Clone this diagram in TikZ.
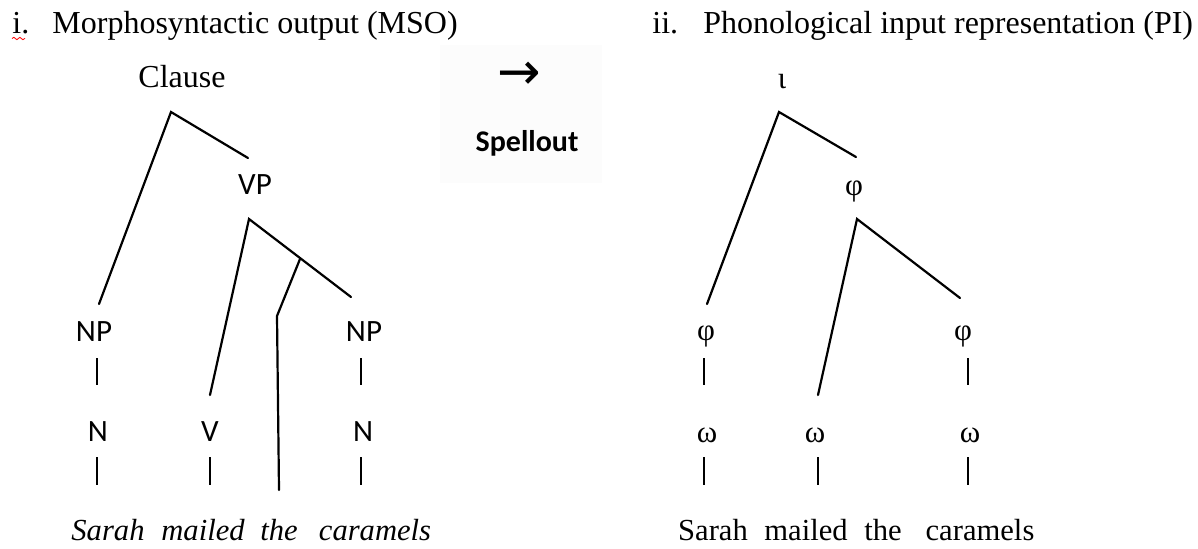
\documentclass[tikz,border=0pt]{standalone}
\usepackage{fontspec}
\setmainfont{Liberation Serif}
\newfontfamily\calibri{Carlito}
\newfontfamily\dejavu{DejaVu Sans}
\usetikzlibrary{decorations.pathmorphing}
\begin{document}
\begin{tikzpicture}[x=0.5pt,y=-0.5pt,
  serif/.style={font=\fontsize{16}{19}\selectfont, inner sep=0pt},
  word/.style={font=\fontsize{15.3}{18}\selectfont, inner sep=0pt, anchor=base},
  sans/.style={font=\calibri\fontsize{15.5}{18}\selectfont, inner sep=0pt},
  gk/.style={font=\fontsize{15.5}{18}\selectfont, inner sep=0pt},
  branch/.style={line width=1.1pt, line cap=round, line join=miter},
  tick/.style={line width=1pt}]
\useasboundingbox (0,0) rectangle (1198,548);
\fill[black!1.2] (440,45) rectangle (602,183);

% titles
\node[serif, anchor=base west] (t1n) at (12,33) {i.};
\node[serif, anchor=base west] (t1) at (52,33) {Morphosyntactic output (MSO)};
\draw[red, line width=0.4pt, decorate, decoration={snake, amplitude=0.6pt, segment length=3pt}] (12,38.5) -- (25,38.5);
\node[serif, anchor=base west] (t2n) at (652,33) {ii.};
\node[serif, anchor=base west] (t2) at (703,33) {Phonological input representation (PI)};

% spellout
\node[inner sep=0pt, font=\dejavu\fontsize{26}{28}\selectfont] (arr) at (519,76) {→};
\node[inner sep=0pt, font=\calibri\bfseries\fontsize{15}{18}\selectfont] (spell) at (527,143) {Spellout};

% left tree
\node[serif, anchor=base] (clause) at (182,87) {Clause};
\node[sans] (vp) at (255,185) {VP};
\node[sans] (np1) at (94,332) {NP};
\node[sans] (np2) at (364,332) {NP};
\node[sans] (n1) at (98,432) {N};
\node[sans] (v) at (210,432) {V};
\node[sans] (n2) at (363,432) {N};

\coordinate (cA) at (171,112);
\coordinate (cR) at (248,158);
\coordinate (cL) at (99,304);
\coordinate (vA) at (249,219);
\coordinate (vR) at (351,297);
\coordinate (vL) at (210,395);
\coordinate (vJ) at (300,259);
\coordinate (vK) at (277,316);
\coordinate (vB) at (279,490);
\draw[branch] (cL) -- (cA) -- (cR);
\draw[branch] (vL) -- (vA) -- (vR);
\draw[branch] (vJ) -- (vK) -- (vB);

\coordinate (a1) at (97,358); \coordinate (a2) at (97,385);
\coordinate (a3) at (97,457); \coordinate (a4) at (97,485);
\coordinate (b3) at (210,457); \coordinate (b4) at (210,485);
\coordinate (c1) at (361,358); \coordinate (c2) at (361,385);
\coordinate (c3) at (361,457); \coordinate (c4) at (361,485);
\draw[tick] (a1) -- (a2);
\draw[tick] (a3) -- (a4);
\draw[tick] (b3) -- (b4);
\draw[tick] (c1) -- (c2);
\draw[tick] (c3) -- (c4);

\node[word] (ls1) at (108,540) {\itshape Sarah};
\node[word] (ls2) at (203,540) {\itshape mailed};
\node[word] (ls3) at (279,540) {\itshape the};
\node[word] (ls4) at (375,540) {\itshape caramels};

% right tree
\node[gk] (iota) at (782,82) {ι};
\node[gk] (phiM) at (854,191) {φ};
\node[gk] (phiL) at (706,336) {φ};
\node[gk] (phiR) at (963,336) {φ};
\node[gk] (omL) at (707,435) {ω};
\node[gk] (omM) at (815,435) {ω};
\node[gk] (omR) at (970,435) {ω};

\coordinate (iA) at (779,112);
\coordinate (iR) at (856,157);
\coordinate (iL) at (707,304);
\coordinate (pA) at (857,219);
\coordinate (pR) at (960,298);
\coordinate (pL) at (818,395);
\draw[branch] (iL) -- (iA) -- (iR);
\draw[branch] (pL) -- (pA) -- (pR);

\coordinate (d1) at (704,358); \coordinate (d2) at (704,385);
\coordinate (d3) at (704,457); \coordinate (d4) at (704,485);
\coordinate (e3) at (818,457); \coordinate (e4) at (818,485);
\coordinate (f1) at (968,358); \coordinate (f2) at (968,385);
\coordinate (f3) at (968,457); \coordinate (f4) at (968,485);
\draw[tick] (d1) -- (d2);
\draw[tick] (d3) -- (d4);
\draw[tick] (e3) -- (e4);
\draw[tick] (f1) -- (f2);
\draw[tick] (f3) -- (f4);

\node[word] (rs1) at (713,540) {Sarah};
\node[word] (rs2) at (806,540) {mailed};
\node[word] (rs3) at (883,540) {the};
\node[word] (rs4) at (980,540) {caramels};
\end{tikzpicture}
\end{document}
